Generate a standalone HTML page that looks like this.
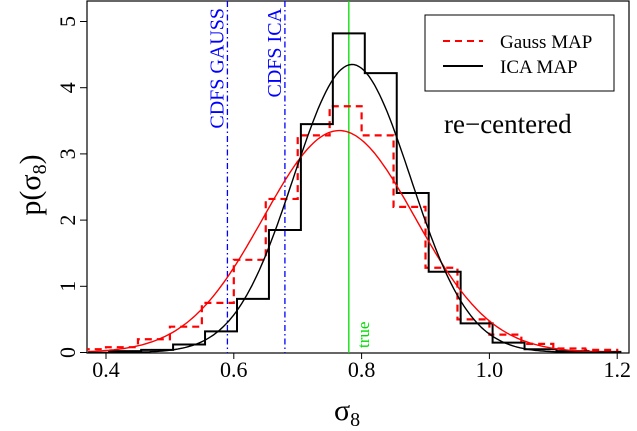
<!DOCTYPE html>
<html><head><meta charset="utf-8"><style>
html,body{margin:0;padding:0;background:#fff;}
svg, svg text{font-family:"Liberation Serif",serif;}
svg{display:block;}
</style></head><body>
<svg id="chart" width="637" height="431" viewBox="0 0 637 431" font-family="Liberation Serif, serif">
<defs><clipPath id="pc"><rect x="87" y="1" width="542" height="352"/></clipPath></defs>
<rect x="87" y="1" width="542" height="352" fill="#fff" stroke="#000" stroke-width="1.2"/>
<g id="marks" clip-path="url(#pc)"></g>
<g id="axes"></g>
<g>
 <rect x="425" y="15" width="189" height="76" fill="#fff" stroke="#000" stroke-width="1"/>
 <line x1="443" y1="41" x2="483" y2="41" stroke="#f00" stroke-width="2" stroke-dasharray="7,5"/>
 <text x="500" y="48" font-size="19" font-family="Liberation Serif, serif">Gauss MAP</text>
 <line x1="443" y1="66" x2="483" y2="66" stroke="#000" stroke-width="2"/>
 <text x="500" y="73" font-size="19" font-family="Liberation Serif, serif">ICA MAP</text>
</g>
<text x="444" y="133" font-size="27" font-family="Liberation Serif, serif">re−centered</text>
<text transform="translate(40,185) rotate(-90)" text-anchor="middle" font-size="30" font-family="Liberation Serif, serif">p(σ<tspan font-size="20" dy="6">8</tspan><tspan dy="-6">)</tspan></text>
<text x="334" y="420" font-size="30" font-family="Liberation Serif, serif">σ<tspan font-size="20" dy="6">8</tspan></text>
</svg>
<script>
const binEdgesGauss = [0.35,0.40,0.45,0.50,0.55,0.60,0.65,0.70,0.75,0.80,0.85,0.90,0.95,1.00,1.05,1.10,1.15,1.20];
const gaussHist = [0.05,0.08,0.2,0.39,0.75,1.4,2.32,3.28,3.72,3.28,2.2,1.28,0.5,0.27,0.13,0.06,0.04];
const binEdgesIca = [0.405,0.455,0.505,0.555,0.605,0.655,0.705,0.755,0.805,0.855,0.905,0.955,1.005,1.055,1.105,1.155,1.205];
const icaHist = [0.02,0.04,0.12,0.32,0.81,1.85,3.45,4.82,4.22,2.41,1.22,0.44,0.15,0.05,0.02,0.01];
const fitMeans = [0.765,0.785];
const fitSds = [0.119,0.0917];
const vlineValues = [0.59,0.68,0.78];
const vlineLabels = ["CDFS GAUSS","CDFS ICA","true"];
const xTicks = [0.4,0.6,0.8,1.0,1.2];
const xTickLabels = ["0.4","0.6","0.8","1.0","1.2"];
const yTicks = [0,1,2,3,4,5];

const NS="http://www.w3.org/2000/svg";
const FF="Liberation Serif, serif";
const X = v => 106 + (v-0.4)*639;
const Y = v => 352.5 - v*66.2;
const marks=document.getElementById('marks'), axes=document.getElementById('axes');
function mk(tag,attrs,parent){const e=document.createElementNS(NS,tag);for(const k in attrs)e.setAttribute(k,attrs[k]);parent.appendChild(e);return e;}
function stepPath(edges,vals){
  let d=`M${X(edges[0])},${Y(0)}`;
  for(let i=0;i<vals.length;i++){d+=` L${X(edges[i])},${Y(vals[i])} L${X(edges[i+1])},${Y(vals[i])}`;}
  d+=` L${X(edges[vals.length])},${Y(0)}`;return d;
}
function curve(m,s){
  let d='';
  for(let x=0.372;x<=1.205;x+=0.004){const y=Math.exp(-0.5*((x-m)/s)**2)/(s*Math.sqrt(2*Math.PI));d+=(d?' L':'M')+X(x).toFixed(1)+','+Y(y).toFixed(1);}
  return d;
}
const vcol=['#00f','#00f','#0d0'];
vlineValues.forEach((v,i)=>{
  const l=mk('line',{x1:X(v),x2:X(v),y1:1,y2:353,stroke:vcol[i],'stroke-width':1.3},marks);
  if(i<2)l.setAttribute('stroke-dasharray','6,3,1.5,3');
  
  
  let t;
  if(i<2){
    t=mk('text',{transform:`translate(${X(v)-4},8) rotate(-90)`,'text-anchor':'end',fill:vcol[i],'font-size':20,'font-family':FF},axes);
  } else {
    t=mk('text',{transform:`translate(${X(v)+20},348) rotate(-90)`,'text-anchor':'start',fill:vcol[i],'font-size':17,'font-family':FF},axes);
  }
  t.textContent=vlineLabels[i];
  
  
});
const gh=mk('path',{d:stepPath(binEdgesGauss,gaussHist),fill:'none',stroke:'#f00','stroke-width':2.2,'stroke-dasharray':'7,5'},marks);


const ih=mk('path',{d:stepPath(binEdgesIca,icaHist),fill:'none',stroke:'#000','stroke-width':2},marks);


const gc=mk('path',{d:curve(fitMeans[0],fitSds[0]),fill:'none',stroke:'#f00','stroke-width':1.4},marks);


const ic=mk('path',{d:curve(fitMeans[1],fitSds[1]),fill:'none',stroke:'#000','stroke-width':1.4},marks);


xTicks.forEach((v,i)=>{
  const tk=mk('line',{x1:X(v),x2:X(v),y1:353,y2:359,stroke:'#000'},axes);
  
  
  const t=mk('text',{x:X(v),y:377,'text-anchor':'middle','font-size':22,'font-family':FF},axes);
  t.textContent=xTickLabels[i];
  
  
});
yTicks.forEach(v=>{
  const tk=mk('line',{x1:80,x2:87,y1:Y(v),y2:Y(v),stroke:'#000'},axes);
  
  
  const t=mk('text',{transform:`translate(75,${Y(v)}) rotate(-90)`,'text-anchor':'middle','font-size':22,'font-family':FF},axes);
  t.textContent=String(v);
  
  
});
</script>
</body></html>
